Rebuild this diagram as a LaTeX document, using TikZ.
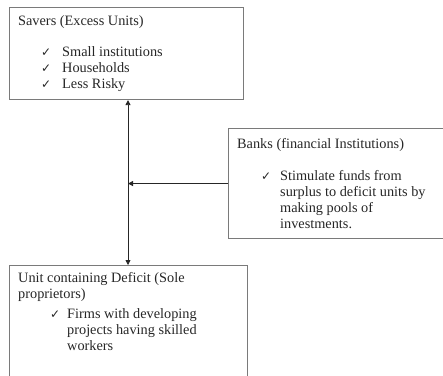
\documentclass[tikz,border=0pt]{standalone}
\usepackage{fontspec}
\setmainfont{Liberation Serif}
\newfontfamily\symf{DejaVu Sans}
\usetikzlibrary{arrows.meta}
\definecolor{boxline}{HTML}{7A7A7A}
\definecolor{txt}{HTML}{262626}
\tikzset{ctip/.tip={Triangle[length=5bp,width=5bp]}}
\begin{document}
\begin{tikzpicture}[x=1bp,y=-1bp,
  box/.style={draw=boxline, line width=1.1bp, inner sep=0pt, anchor=north west},
  lbl/.style={anchor=base west, inner sep=0pt, text=txt, font=\fontsize{14.3bp}{16bp}\selectfont},
  chk/.style={anchor=base west, inner sep=0pt, text=txt, font=\symf\fontsize{12bp}{14bp}\selectfont},
  conn/.style={draw=black!85, line width=0.8bp}]
\useasboundingbox (0,0) rectangle (443,375);
% boxes
\node[box, minimum width=234bp, minimum height=92bp] (savers) at (9,7) {};
\node[box, minimum width=220bp, minimum height=110bp] (banks) at (228,128) {};
\node[box, minimum width=238bp, minimum height=120bp] (deficit) at (9,265) {};
% savers text
\node[lbl] (st) at (18,25) {Savers (Excess Units)};
\node[chk] (sc1) at (41,56) {✓};
\node[lbl] (s1) at (62,56) {Small institutions};
\node[chk] (sc2) at (41,72) {✓};
\node[lbl] (s2) at (62,72) {Households};
\node[chk] (sc3) at (41,88) {✓};
\node[lbl] (s3) at (62,88) {Less Risky};
% banks text
\node[lbl] (bt) at (237,148) {Banks (financial Institutions)};
\node[chk] (bc1) at (261,180) {✓};
\node[lbl] (b1) at (280,180) {Stimulate funds from};
\node[lbl] (b2) at (280,196) {surplus to deficit units by};
\node[lbl] (b3) at (280,212) {making pools of};
\node[lbl] (b4) at (280,228) {investments.};
% deficit text
\node[lbl] (dt1) at (18,282) {Unit containing Deficit (Sole};
\node[lbl] (dt2) at (18,298) {proprietors)};
\node[chk] (dc1) at (50,318) {✓};
\node[lbl] (d1) at (67,318) {Firms with developing};
\node[lbl] (d2) at (67,334) {projects having skilled};
\node[lbl] (d3) at (67,350) {workers};
% connectors
\coordinate (vx) at (128,0);
\draw[conn, ctip-ctip] (savers.south -| vx) -- (deficit.north -| vx);
\draw[conn, -ctip] (banks.west) -- (banks.west -| vx);
\end{tikzpicture}
\end{document}
